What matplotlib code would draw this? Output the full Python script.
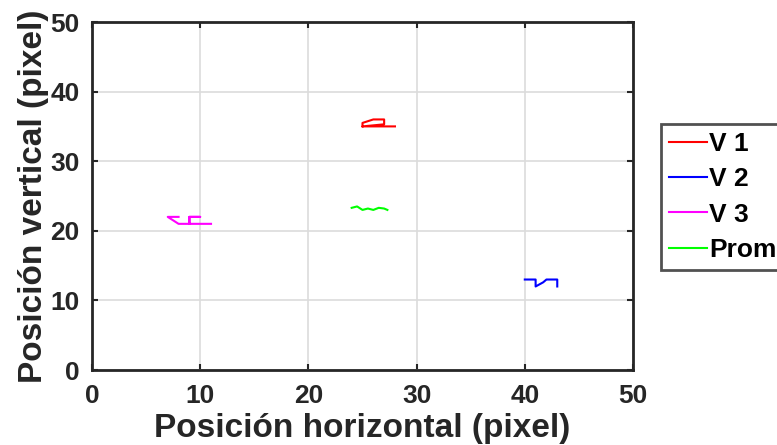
import matplotlib
matplotlib.use("Agg")
import matplotlib.pyplot as plt

plt.rcParams['font.family'] = ['Liberation Sans', 'DejaVu Sans']
plt.rcParams['font.weight'] = 'bold'

# Data (pixel positions)
v1_x = [25, 25, 26, 27, 27, 25, 28]
v1_y = [35, 35.5, 36, 36, 35.3, 35, 35]
v2_x = [40, 41, 41, 41.7, 42, 43, 43]
v2_y = [13, 13, 12, 12.6, 13, 13, 12]
v3_x = [8, 7, 8, 9, 9, 10, 9, 9, 11]
v3_y = [22, 22, 21, 21, 22, 22, 22, 21, 21]
prom_x = [24, 24.5, 25, 25.5, 26, 26.5, 27, 27.3]
prom_y = [23.3, 23.5, 23.0, 23.2, 23.0, 23.3, 23.2, 23.0]
labels = ['V 1', 'V 2', 'V 3', 'Prom']
colors = ['#ff0000', '#0000ff', '#ff00ff', '#00ff00']
ticks = [0, 10, 20, 30, 40, 50]

fig = plt.figure(figsize=(7.77, 4.45), dpi=100)
ax = fig.add_axes([92/777, 1-370/445, (633-92)/777, (370-22)/445])
for xs, ys, lab, c in zip([v1_x, v2_x, v3_x, prom_x], [v1_y, v2_y, v3_y, prom_y], labels, colors):
    ax.plot(xs, ys, color=c, lw=1.5, label=lab)

ax.set_xlim(0, 50)
ax.set_ylim(0, 50)
ax.set_xticks(ticks)
ax.set_yticks(ticks)
ax.tick_params(direction='in', labelsize=19, length=4, width=1.5, top=True, right=True,
               colors='#262626')
ax.tick_params(axis='x', pad=10)
ax.tick_params(axis='y', pad=9)
for lbl in ax.get_xticklabels() + ax.get_yticklabels():
    lbl.set_fontweight('bold')
    lbl.set_color('#262626')
ax.grid(True, color='#dcdcdc', lw=1.2)
ax.set_axisbelow(True)
for s in ax.spines.values():
    s.set_color('#262626')
    s.set_linewidth(2)
ax.set_xlabel('Posición horizontal (pixel)', fontsize=24, fontweight='bold', labelpad=4, color='#262626')
ax.set_ylabel('Posición vertical (pixel)', fontsize=24, fontweight='bold', labelpad=1, color='#262626')

leg = fig.legend(loc='upper left', bbox_to_anchor=(661/777, 1-124/445),
                 prop={'weight': 'bold', 'size': 19}, frameon=True, fancybox=False,
                 handlelength=1.44, handletextpad=0.08, borderpad=0.3, labelspacing=0.43,
                 borderaxespad=0)
leg.get_frame().set_edgecolor('#262626')
leg.get_frame().set_linewidth(2)
for t in leg.get_texts():
    t.set_color('black')

fig.savefig('out.png', dpi=100)
